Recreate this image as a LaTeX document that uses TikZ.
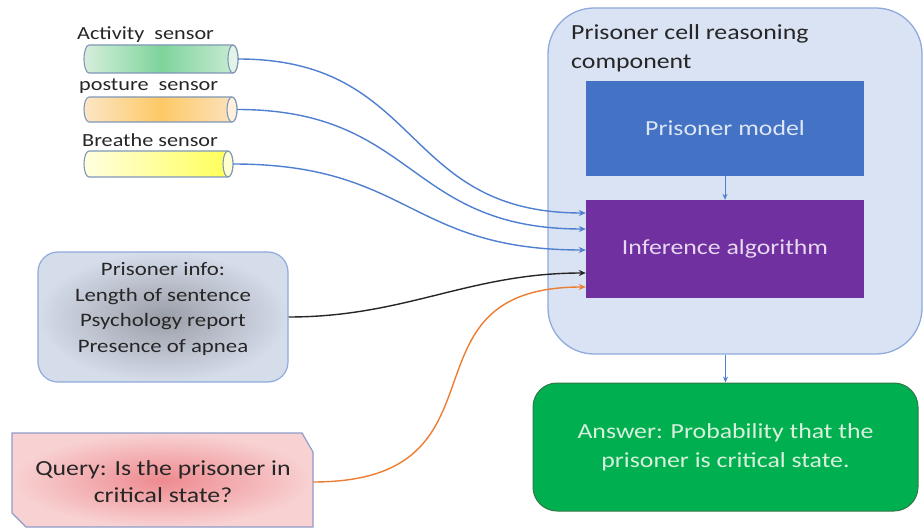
\documentclass[tikz,border=0pt]{standalone}
\usepackage{fontspec}
\setmainfont{Carlito}[FakeStretch=1.2]
\usetikzlibrary{arrows.meta}

% palette
\definecolor{cellfill}{HTML}{DAE3F3}
\definecolor{celldraw}{HTML}{8FAADC}
\definecolor{modelfill}{HTML}{4472C4}
\definecolor{modeltext}{HTML}{DCE6F5}
\definecolor{inffill}{HTML}{7030A0}
\definecolor{inftext}{HTML}{E6D8F0}
\definecolor{ansfill}{HTML}{00B050}
\definecolor{ansdraw}{HTML}{2F7A45}
\definecolor{anstext}{HTML}{D8F0DC}
\definecolor{darktext}{HTML}{262626}
\definecolor{linkblue}{HTML}{4F7FD0}
\definecolor{linkorange}{HTML}{ED7D31}
\definecolor{linkblack}{HTML}{262626}
\definecolor{cylline}{HTML}{7F97B8}
\definecolor{infoin}{HTML}{9A9EA7}
\definecolor{infoout}{HTML}{D5DCEA}
\definecolor{queryin}{HTML}{EE8A8F}
\definecolor{queryout}{HTML}{F8D2D3}
\definecolor{querydraw}{HTML}{8E9CC8}
% sensor tubes
\definecolor{actL}{HTML}{D6EEDC}
\definecolor{actM}{HTML}{7ED49B}
\definecolor{actR}{HTML}{CBEBD5}
\definecolor{actCap}{HTML}{E2F3E7}
\definecolor{posL}{HTML}{FCE6C6}
\definecolor{posM}{HTML}{FDC966}
\definecolor{posR}{HTML}{FCE3C0}
\definecolor{posCap}{HTML}{FDF0DD}
\definecolor{breL}{HTML}{FFFFE0}
\definecolor{breR}{HTML}{FFFF55}
\definecolor{breCap}{HTML}{FFFFD0}

\begin{document}
\begin{tikzpicture}[x=1pt, y=-1pt,
  bigfont/.style={font=\fontsize{21.5}{29}\selectfont},
  cellbox/.style={draw=celldraw, fill=cellfill, line width=1.3pt,
    rounded corners=46pt, minimum width=374pt, minimum height=346pt, inner sep=0pt},
  procbox/.style={bigfont, minimum width=278pt, inner sep=0pt, align=center},
  answerbox/.style={bigfont, draw=ansdraw, fill=ansfill, text=anstext, line width=1pt,
    rounded corners=24pt, minimum width=385pt, minimum height=128pt, inner sep=0pt, align=center},
  infobox/.style={draw=celldraw, line width=1.2pt, rounded corners=20pt,
    inner color=infoin, outer color=infoout, minimum width=250pt, minimum height=130pt, inner sep=0pt},
  sidetext/.style={font=\fontsize{19}{25.5}\selectfont, text=darktext, align=center, inner sep=0pt},
  sensorlabel/.style={font=\fontsize{18.5}{22}\selectfont, text=darktext, inner sep=0pt, anchor=west},
  cyl/.style={draw=cylline, line width=1.1pt},
  flow/.style={-{Stealth[length=7pt,width=6pt]}, line width=1.4pt},
  smallflow/.style={-{Stealth[length=6pt,width=5pt]}, line width=1pt, draw=linkblue}
]
\useasboundingbox (0,0) rectangle (924,529);

% ---- reasoning component -------------------------------------------------
\node[cellbox] (cell) at (735,181) {};
\node[bigfont, text=darktext, align=left, anchor=west, inner sep=0pt] (celltitle) at (571,48)
  {Prisoner cell reasoning\\component};
\node[procbox, fill=modelfill, text=modeltext, minimum height=95pt] (model) at (725,128.5) {Prisoner model};
\node[procbox, fill=inffill, text=inftext, minimum height=98pt] (inf) at (725,249) {Inference algorithm};
\draw[smallflow] (model.south) -- (inf.north);

% ---- answer ---------------------------------------------------------------
\node[answerbox] (answer) at (725.5,447)
  {Answer: Probability that the\\prisoner is critical state.};
\draw[smallflow] (answer.north |- cell.south) -- (answer.north);

% ---- sensors (horizontal cylinders) ---------------------------------------
% middle color has to come after left/right color, which reset it
% activity
\shade[cyl, left color=actL, right color=actR, middle color=actM]
  (233,45) -- (89,45) arc[start angle=270, end angle=90, x radius=5, y radius=14]
  -- (233,73) arc[start angle=90, end angle=-90, x radius=5, y radius=14] -- cycle;
\draw[cyl, fill=actCap] (233,59) ellipse[x radius=5, y radius=14];
\coordinate (act) at (238,59);
\node[sensorlabel] (actlabel) at (77,35) {Activity\ \ sensor};
% posture
\shade[cyl, left color=posL, right color=posR, middle color=posM]
  (232,97) -- (89,97) arc[start angle=270, end angle=90, x radius=5, y radius=12.5]
  -- (232,122) arc[start angle=90, end angle=-90, x radius=5, y radius=12.5] -- cycle;
\draw[cyl, fill=posCap] (232,109.5) ellipse[x radius=5, y radius=12.5];
\coordinate (pos) at (237,109.5);
\node[sensorlabel] (poslabel) at (79,86) {posture\ \ sensor};
% breathe
\shade[cyl, left color=breL, right color=breR]
  (228,151) -- (89,151) arc[start angle=270, end angle=90, x radius=5, y radius=13]
  -- (228,177) arc[start angle=90, end angle=-90, x radius=5, y radius=13] -- cycle;
\draw[cyl, fill=breCap] (228,164) ellipse[x radius=5, y radius=13];
\coordinate (bre) at (233,164);
\node[sensorlabel] (brelabel) at (82,140) {Breathe sensor};

% ---- prisoner info ----------------------------------------------------------
\node[infobox] (info) at (163,317) {};
\node[sidetext] (infotext) at (163,309)
  {Prisoner info:\\Length of sentence\\Psychology report\\Presence of apnea};

% ---- query ------------------------------------------------------------------
\shade[draw=querydraw, line width=1.2pt, inner color=queryin, outer color=queryout]
  (12,433) -- (302,433) -- (313,452) -- (313,527) -- (26,527) -- (12,513) -- cycle;
\node[sidetext, font=\fontsize{21.5}{27}\selectfont] (query) at (163,482)
  {Query: Is the prisoner in\\critical state?};
\coordinate (qout) at (313,482);

% ---- inputs into the inference algorithm ----------------------------------
\draw[flow, linkblue] (act) to[out=0, in=180, looseness=1.25] ([yshift=36pt]inf.west);
\draw[flow, linkblue] (pos) to[out=0, in=180, looseness=1.25] ([yshift=20pt]inf.west);
\draw[flow, linkblue] (bre) to[out=0, in=180, looseness=1.25] ([yshift=-1pt]inf.west);
\draw[flow, linkblack] (info.east) to[out=0, in=180] ([yshift=-24pt]inf.west);
\draw[flow, linkorange] (qout) .. controls (520,482) and (390,287) .. ([yshift=-38pt]inf.west);
\end{tikzpicture}
\end{document}
